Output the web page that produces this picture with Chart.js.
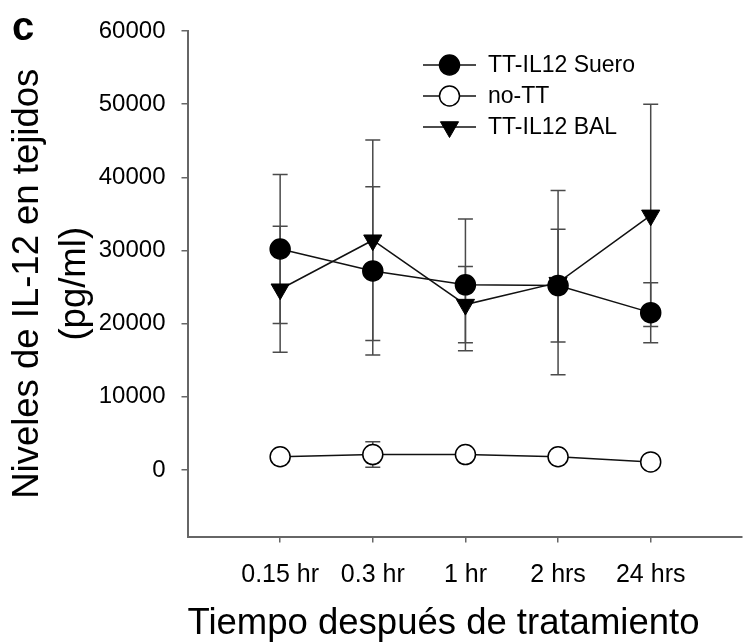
<!DOCTYPE html>
<html>
<head>
<meta charset="utf-8">
<script src="https://cdn.jsdelivr.net/npm/chart.js@4"></script>
<style>
    html, body { margin: 0; padding: 0; background: #fff; overflow: hidden; }
</style>
</head>
<body>
<canvas id="il12Chart" width="753" height="643"></canvas>
<script>
// Datos (medias y desviaciones, pg/ml)
const tiempos = ['0.15 hr', '0.3 hr', '1 hr', '2 hrs', '24 hrs'];
const sueroMedia = [30200, 27200, 25300, 25200, 21500];
const sueroDE = [10200, 11500, 9000, 7700, 4100];
const noTTMedia = [1800, 2100, 2100, 1800, 1100];
const noTTDE = [300, 1750, 300, 300, 300];
const balMedia = [24700, 31400, 22600, 25600, 34800];
const balDE = [8600, 13700, 5200, 12600, 15200];
const yTicks = [0, 10000, 20000, 30000, 40000, 50000, 60000];

const fuente = "'Liberation Sans', Arial, sans-serif";

// Pasa las medias a puntos {x, y} (x = posición de la categoría)
function puntos(medias) {
    return medias.map((v, i) => ({ x: i + 1, y: v }));
}

// Plugin: barras de error (debajo de los marcadores)
const barrasError = {
    id: 'barrasError',
    beforeDatasetsDraw(chart) {
        const ctx = chart.ctx;
        const sx = chart.scales.x;
        const sy = chart.scales.y;
        ctx.save();
        ctx.strokeStyle = '#4a4a4a';
        ctx.lineWidth = 1.5;
        chart.data.datasets.forEach(ds => {
            ds.data.forEach((p, i) => {
                const px = sx.getPixelForValue(p.x);
                const top = sy.getPixelForValue(p.y + ds.errores[i]);
                const bot = sy.getPixelForValue(p.y - ds.errores[i]);
                ctx.beginPath();
                ctx.moveTo(px, top); ctx.lineTo(px, bot);
                ctx.moveTo(px - 7.5, top); ctx.lineTo(px + 7.5, top);
                ctx.moveTo(px - 7.5, bot); ctx.lineTo(px + 7.5, bot);
                ctx.stroke();
            });
        });
        ctx.restore();
    }
};

// Plugin: leyenda dentro del área y la letra "c" del panel
const leyenda = {
    id: 'leyenda',
    afterDraw(chart) {
        const ctx = chart.ctx;
        ctx.save();
        chart.data.datasets.forEach((ds, i) => {
            const y = 65 + i * 31;
            ctx.strokeStyle = '#111';
            ctx.lineWidth = 1.5;
            ctx.beginPath();
            ctx.moveTo(423, y); ctx.lineTo(476, y);
            ctx.stroke();
            ctx.fillStyle = ds.pointBackgroundColor;
            ctx.strokeStyle = ds.pointBorderColor;
            ctx.lineWidth = ds.pointBorderWidth;
            Chart.helpers.drawPoint(ctx, {
                pointStyle: ds.pointStyle,
                rotation: ds.pointRotation || 0,
                radius: ds.pointRadius,
                borderWidth: ds.pointBorderWidth
            }, 449.5, y);
            ctx.fillStyle = '#000';
            ctx.font = '23px ' + fuente;
            ctx.textAlign = 'left';
            ctx.textBaseline = 'middle';
            ctx.fillText(ds.label, 488, y + 1);
        });
        ctx.font = 'bold 40px ' + fuente;
        ctx.textAlign = 'left';
        ctx.textBaseline = 'alphabetic';
        ctx.fillStyle = '#000';
        ctx.fillText('c', 12, 40);
        ctx.restore();
    }
};

const ctx = document.getElementById('il12Chart').getContext('2d');
new Chart(ctx, {
    type: 'line',
    data: {
        datasets: [
            {
                label: 'TT-IL12 Suero',
                data: puntos(sueroMedia),
                errores: sueroDE,
                borderColor: '#111',
                borderWidth: 1.5,
                pointStyle: 'circle',
                pointRadius: 10,
                pointBackgroundColor: '#000',
                pointBorderColor: '#000',
                pointBorderWidth: 1.5,
                tension: 0
            },
            {
                label: 'no-TT',
                data: puntos(noTTMedia),
                errores: noTTDE,
                borderColor: '#111',
                borderWidth: 1.5,
                pointStyle: 'circle',
                pointRadius: 10,
                pointBackgroundColor: '#fff',
                pointBorderColor: '#000',
                pointBorderWidth: 1.5,
                tension: 0
            },
            {
                label: 'TT-IL12 BAL',
                data: puntos(balMedia),
                errores: balDE,
                borderColor: '#111',
                borderWidth: 1.5,
                pointStyle: 'triangle',
                pointRotation: 180,
                pointRadius: 10.5,
                pointBackgroundColor: '#000',
                pointBorderColor: '#000',
                pointBorderWidth: 1,
                tension: 0
            }
        ]
    },
    options: {
        responsive: false,
        animation: false,
        events: [],
        layout: { padding: { top: 31, right: 0, bottom: 0, left: 0 } },
        plugins: {
            legend: { display: false },
            tooltip: { enabled: false }
        },
        scales: {
            x: {
                type: 'linear',
                min: 0,
                max: 5.98,
                afterBuildTicks: s => { s.ticks = tiempos.map((t, i) => ({ value: i + 1 })); },
                afterFit: s => { s.height = 106.5; },
                ticks: {
                    callback: v => tiempos[v - 1] || '',
                    font: { family: fuente, size: 25 },
                    color: '#000',
                    padding: 18,
                    maxRotation: 0,
                    autoSkip: false
                },
                grid: { display: true, drawOnChartArea: false, drawTicks: true, tickLength: 6, color: '#666', lineWidth: 1.5 },
                border: { display: true, color: '#666', width: 2 },
                title: {
                    display: true,
                    text: 'Tiempo después de tratamiento',
                    align: 'start',
                    color: '#000',
                    font: { family: fuente, size: 36.5, lineHeight: 1 },
                    padding: { top: 0, bottom: 1 }
                }
            },
            y: {
                min: -9100,
                max: 60000,
                afterBuildTicks: s => { s.ticks = yTicks.map(v => ({ value: v })); },
                afterFit: s => { s.width = 187.5; },
                ticks: {
                    callback: v => String(v),
                    font: { family: fuente, size: 24 },
                    color: '#000',
                    padding: 16
                },
                grid: { display: true, drawOnChartArea: false, drawTicks: true, tickLength: 6, color: '#666', lineWidth: 1.5 },
                border: { display: true, color: '#666', width: 2 },
                title: {
                    display: true,
                    text: ['Niveles de IL-12 en tejidos', '(pg/ml)'],
                    color: '#000',
                    font: { family: fuente, size: 36.5, lineHeight: 1.28 },
                    padding: { top: 5, bottom: 0 }
                }
            }
        }
    },
    plugins: [barrasError, leyenda]
});
</script>
</body>
</html>
